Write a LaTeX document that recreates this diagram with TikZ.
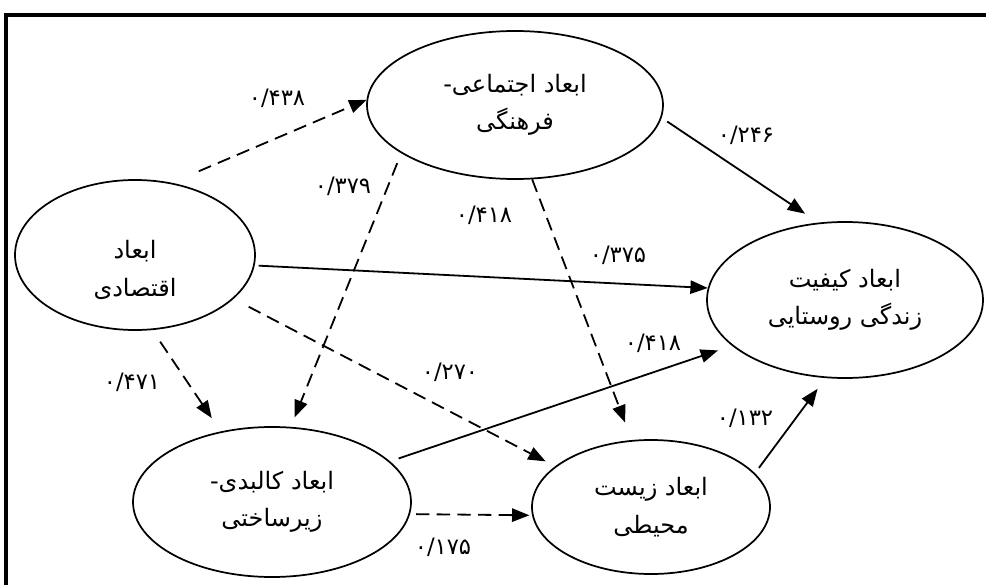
\documentclass[tikz,border=0pt]{standalone}
\usepackage{fontspec}
\usetikzlibrary{shapes.geometric,arrows.meta}
\TeXXeTstate=1
\newfontfamily\fa[Script=Arabic]{DejaVu Sans}
\newcommand{\rtl}[1]{\beginR #1\endR}
\tikzset{
  ell/.style={ellipse, draw, line width=1.3pt, inner sep=0pt, align=center,
    font=\fa\fontsize{18}{28}\selectfont},
  conn/.style={line width=1.35pt, -{Triangle[length=13pt,width=10pt]}},
  dconn/.style={conn, dash pattern=on 10pt off 5.5pt},
  lab/.style={font=\fa\fontsize{17}{20}\selectfont, inner sep=0pt},
  frame/.style={line width=2.6pt}
}
\begin{document}
\begin{tikzpicture}[x=0.75pt,y=-0.75pt]
\useasboundingbox (0,0) rectangle (986,585);
\draw[frame] (5.8,585) -- (5.8,15) -- (986,15);

\node[ell, minimum width=222pt, minimum height=111pt] (S) at (515,105)
  {\rtl{ابعاد اجتماعی-}\\\rtl{فرهنگی}};
\node[ell, minimum width=180pt, minimum height=112.5pt] (E) at (135,255)
  {\rule{0pt}{36pt}\rtl{ابعاد}\\\rtl{اقتصادی}};
\node[ell, minimum width=207pt, minimum height=117pt] (Q) at (845,300)
  {\rtl{ابعاد کیفیت}\\\rtl{زندگی روستایی}};
\node[ell, minimum width=208.5pt, minimum height=112.5pt] (P) at (272,502)
  {\rtl{ابعاد کالبدی-}\\\rtl{زیرساختی}};
\node[ell, minimum width=178.5pt, minimum height=100.5pt] (V) at (651,507)
  {\rtl{ابعاد زیست}\\\rtl{محیطی}};

\draw[dconn, shorten <=22pt] (E.63) -- (S.178);
\draw[dconn, shorten <=8pt, shorten >=7.5pt] (S.203) -- (P.76);
\draw[dconn, shorten <=10.5pt, shorten >=12pt] (E.283) -- (P.126);
\draw[dconn, shorten <=12.75pt, shorten >=8pt] (E.336) -- (V.157);
\draw[conn, shorten <=3pt] (E.355) -- (Q.175);
\draw[dconn, shorten >=14pt] (S.283) -- (V.106);
\draw[conn, shorten <=5pt, shorten >=12pt] (S.355) -- (Q.109);
\draw[conn, shorten <=6.75pt, shorten >=11pt] (P.19) -- (Q.202);
\draw[conn, shorten <=5pt, shorten >=10pt] (V.18) -- (Q.256);
\draw[dconn, shorten <=4.5pt, shorten >=2pt] (P.355) -- (V.184);

\node[lab] (l1) at (277,98) {۰/۴۳۸};
\node[lab] (l2) at (343,186) {۰/۳۷۹};
\node[lab] (l3) at (484,215) {۰/۴۱۸};
\node[lab] (l4) at (618,255) {۰/۳۷۵};
\node[lab] (l5) at (746,135) {۰/۲۴۶};
\node[lab] (l6) at (653,343) {۰/۴۱۸};
\node[lab] (l7) at (450,372) {۰/۲۷۰};
\node[lab] (l8) at (132,382) {۰/۴۷۱};
\node[lab] (l9) at (745,418) {۰/۱۳۲};
\node[lab] (l10) at (443,547) {۰/۱۷۵};
\end{tikzpicture}
\end{document}
